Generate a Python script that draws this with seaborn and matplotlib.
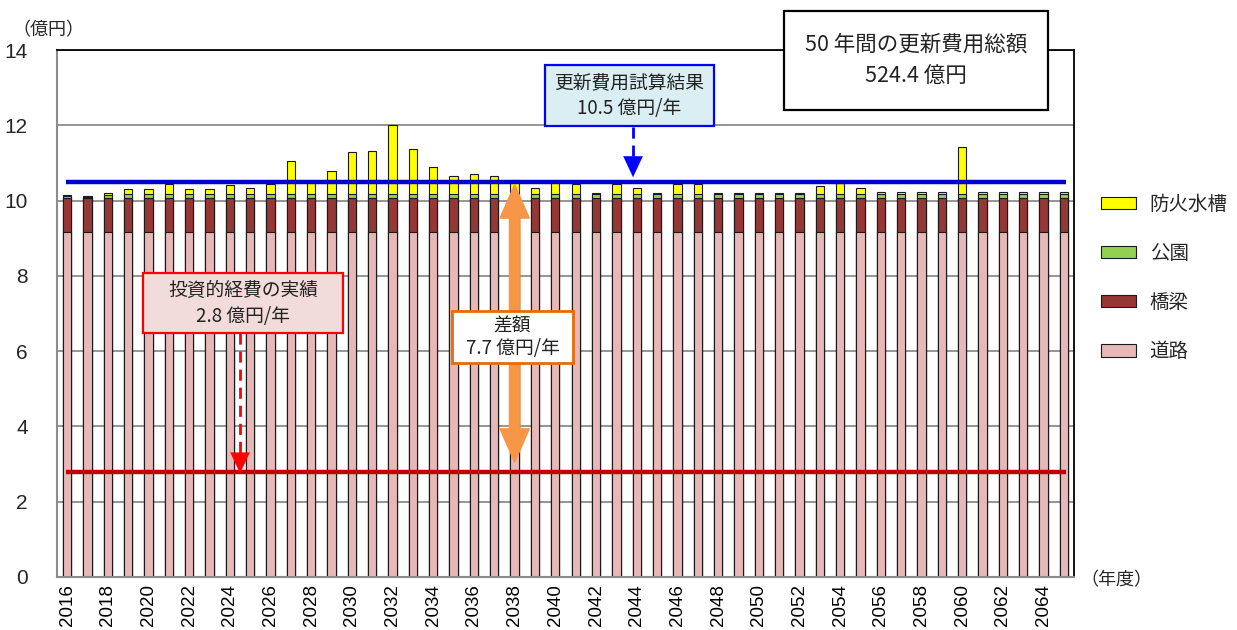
import numpy as np
import pandas as pd
import matplotlib
matplotlib.use("Agg")
import matplotlib.pyplot as plt
from matplotlib.patches import Rectangle, Patch
import seaborn as sns

# 年度別の更新費用（億円）
years = list(range(2016, 2066))
road = [9.16, 9.16, 9.16, 9.16, 9.16, 9.16, 9.16, 9.16, 9.16, 9.16,
        9.16, 9.16, 9.16, 9.16, 9.16, 9.16, 9.16, 9.16, 9.16, 9.16,
        9.16, 9.16, 9.16, 9.16, 9.16, 9.16, 9.16, 9.16, 9.16, 9.16,
        9.16, 9.16, 9.16, 9.16, 9.16, 9.16, 9.16, 9.16, 9.16, 9.16,
        9.16, 9.16, 9.16, 9.16, 9.16, 9.16, 9.16, 9.16, 9.16, 9.16]
bridge = [0.90, 0.90, 0.90, 0.90, 0.90, 0.90, 0.90, 0.90, 0.90, 0.90,
          0.90, 0.90, 0.90, 0.90, 0.90, 0.90, 0.90, 0.90, 0.90, 0.90,
          0.90, 0.90, 0.90, 0.90, 0.90, 0.90, 0.90, 0.90, 0.90, 0.90,
          0.90, 0.90, 0.90, 0.90, 0.90, 0.90, 0.90, 0.90, 0.90, 0.90,
          0.90, 0.90, 0.90, 0.90, 0.90, 0.90, 0.90, 0.90, 0.90, 0.90]
park = [0.05, 0.04, 0.08, 0.12, 0.12, 0.12, 0.12, 0.12, 0.12, 0.12,
        0.12, 0.12, 0.12, 0.12, 0.12, 0.12, 0.12, 0.12, 0.12, 0.12,
        0.12, 0.12, 0.12, 0.12, 0.12, 0.12, 0.12, 0.12, 0.12, 0.12,
        0.12, 0.12, 0.12, 0.12, 0.12, 0.12, 0.12, 0.12, 0.12, 0.12,
        0.12, 0.12, 0.12, 0.12, 0.12, 0.12, 0.12, 0.12, 0.12, 0.12]
tank = [0.04, 0.03, 0.05, 0.13, 0.13, 0.25, 0.13, 0.13, 0.23, 0.15,
        0.25, 0.86, 0.35, 0.61, 1.12, 1.15, 1.83, 1.18, 0.70, 0.47,
        0.53, 0.48, 0.37, 0.15, 0.35, 0.26, 0.03, 0.26, 0.15, 0.03,
        0.26, 0.26, 0.03, 0.03, 0.03, 0.03, 0.03, 0.21, 0.28, 0.15,
        0.04, 0.04, 0.04, 0.04, 1.23, 0.04, 0.04, 0.04, 0.04, 0.04]

categories = ["防火水槽", "公園", "橋梁", "道路"]
colors = ["#FFFF00", "#92D050", "#953735", "#E6B9B8"]

renewal_avg = 10.5      # 更新費用試算結果（億円/年）
actual_avg = 2.8        # 投資的経費の実績（億円/年）
gap = 7.7               # 差額（億円/年）
total_50y = 524.4       # 50年間の更新費用総額（億円）

sns.set_style("white")
plt.rcParams["font.family"] = ["Noto Sans CJK JP", "DejaVu Sans"]

df = pd.DataFrame({"年度": [str(y) for y in years],
                   "道路": road, "橋梁": bridge, "公園": park, "防火水槽": tank})
# stacked heights, drawn from the top layer down so lower layers overlay
df["橋梁_top"] = df["道路"] + df["橋梁"]
df["公園_top"] = df["橋梁_top"] + df["公園"]
df["防火水槽_top"] = df["公園_top"] + df["防火水槽"]
layer_cols = ["防火水槽_top", "公園_top", "橋梁_top", "道路"]

W, H = 1237, 630
fig = plt.figure(figsize=(W / 100, H / 100), dpi=100)
ax = fig.add_axes([57 / W, 1 - 577 / H, (1074 - 57) / W, (577 - 50) / H])

for col, c in zip(layer_cols, colors):
    sns.barplot(data=df, x="年度", y=col, color=c, width=0.41, saturation=1,
                edgecolor="#1a1a1a", linewidth=0.8, errorbar=None, ax=ax, zorder=2)

ax.set_xlim(-0.5, len(years) - 0.5)
ax.set_ylim(0, 14)
ax.set_xlabel("")
ax.set_ylabel("")

# axes styling
ax.set_yticks(np.arange(0, 15, 2))
ax.set_yticklabels([str(v) for v in range(0, 15, 2)], fontfamily="Liberation Sans", fontsize=15)
ax.set_xticks(range(0, len(years) - 1, 2))
ax.set_xticklabels([str(y) for y in years[:-1:2]], rotation=90,
                   fontfamily="Liberation Sans", fontsize=13.5)
ax.set_xticks(np.arange(-0.5, len(years), 1), minor=True)
ax.tick_params(axis="x", which="major", length=0, pad=5, colors="black")
ax.tick_params(axis="x", which="minor", length=6, width=1.2, color="#8c8c8c")
ax.tick_params(axis="y", which="major", length=5, width=1.2, color="#8c8c8c", pad=16)
ax.yaxis.grid(True, color="#8c8c8c", linewidth=1.3)
ax.set_axisbelow(True)
for s in ["left", "bottom"]:
    ax.spines[s].set_color("#8c8c8c")
    ax.spines[s].set_linewidth(1.5)
for s in ["top", "right"]:
    ax.spines[s].set_color("black")
    ax.spines[s].set_linewidth(1.3)

# reference lines
ax.plot([-0.05, 49.1], [renewal_avg, renewal_avg], color="#0000CC", lw=3.2, zorder=4,
        solid_capstyle="butt")
ax.plot([-0.05, 49.1], [actual_avg, actual_avg], color="#C00000", lw=3.2, zorder=4,
        solid_capstyle="butt")

# gap arrow (double headed)
ax_x = 22
mid = (renewal_avg + actual_avg) / 2
arrow_style = "simple,head_length=2.4,head_width=2.1,tail_width=0.75"
for end in (renewal_avg - 0.08, actual_avg + 0.25):
    ax.annotate("", xy=(ax_x, end), xytext=(ax_x, mid),
                arrowprops=dict(arrowstyle=arrow_style, mutation_scale=10,
                                color="#F79646", shrinkA=0, shrinkB=0), zorder=5)

# dashed pointer arrows
def dashed_pointer(x, y0, y1, color, head_h):
    ax.plot([x, x], [y0, y1 + head_h], color=color, lw=2, ls=(0, (4, 2.5)), zorder=5)
    ax.annotate("", xy=(x, y1), xytext=(x, y1 + head_h),
                arrowprops=dict(arrowstyle="-|>,head_length=0.75,head_width=0.35",
                                mutation_scale=20, color=color, lw=0.1,
                                shrinkA=0, shrinkB=0), zorder=6)

dashed_pointer(27.82, 11.96, 10.62, "#0000FF", 0.3)
dashed_pointer(8.5, 6.48, actual_avg - 0.05, "#FF0000", 0.4)

# labelled boxes
def box(x0, x1, y0, y1, face, edge, lines, lw=1.6):
    ax.add_patch(Rectangle((x0, y0), x1 - x0, y1 - y0, facecolor=face, edgecolor=edge,
                           lw=lw, zorder=7))
    for i, t in enumerate(lines):
        yy = y1 - (y1 - y0) * (0.3 + 0.42 * i)
        ax.text((x0 + x1) / 2, yy, t, ha="center", va="center", fontsize=13.5,
                color="#222222", zorder=8)

box(23.49, 31.80, 11.98, 13.60, "#DAEEF3", "#0000FF",
    ["更新費用試算結果", f"{renewal_avg} 億円/年"])
box(3.73, 13.56, 6.48, 8.08, "#F2DCDB", "#FF0000",
    ["投資的経費の実績", f"{actual_avg} 億円/年"])
box(18.92, 24.87, 5.69, 7.07, "white", "#E46C0A",
    ["差額", f"{gap} 億円/年"], lw=2)

# total box straddling the top frame
fig.add_artist(Rectangle((784 / W, 1 - 110 / H), (1048 - 784) / W, (110 - 11) / H,
                         transform=fig.transFigure, facecolor="white", edgecolor="black",
                         lw=1.6, zorder=5))
fig.text(916 / W, 1 - 45 / H, "50 年間の更新費用総額", ha="center", va="center",
         fontsize=15.5, color="#222222", zorder=6)
fig.text(916 / W, 1 - 77 / H, f"{total_50y} 億円", ha="center", va="center",
         fontsize=15.5, color="#222222", zorder=6)

# axis units
fig.text(12 / W, 1 - 30 / H, "（億円）", ha="left", va="center", fontsize=13)
fig.text(1080 / W, 1 - 580 / H, "（年度）", ha="left", va="center", fontsize=13)

# legend
handles = [Patch(facecolor=c, edgecolor="#1a1a1a", lw=0.8) for c in colors]
fig.legend(handles, categories, loc="center left", bbox_to_anchor=(1101 / W, 1 - 278 / H),
           frameon=False, fontsize=14, handlelength=1.8, handleheight=0.6,
           handletextpad=0.7, labelspacing=1.45, borderpad=0, borderaxespad=0)

fig.savefig("out.png", dpi=100)
